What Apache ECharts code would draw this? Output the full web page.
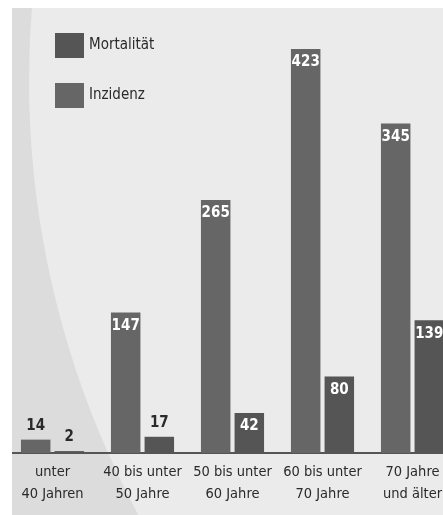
<!DOCTYPE html>
<html>
<head>
<meta charset="utf-8">
<script src="https://cdn.jsdelivr.net/npm/echarts@6/dist/echarts.min.js"></script>
<style>
html,body{margin:0;padding:0;background:#fff;}
#c{width:443px;height:515px;}
</style>
</head>
<body>
<div id="c"></div>
<script>
var categories = ['unter\n40 Jahren', '40 bis unter\n50 Jahre', '50 bis unter\n60 Jahre', '60 bis unter\n70 Jahre', '70 Jahre\nund älter'];
var inzidenz = [14, 147, 265, 423, 345];
var mortalitaet = [2, 17, 42, 80, 139];

var FONT = '"DejaVu Sans Condensed", "Liberation Sans Narrow", sans-serif';

function labelled(values) {
  return values.map(function (v) {
    var small = v < 30;
    return {
      value: v,
      label: {
        show: true,
        position: small ? 'top' : 'insideTop',
        distance: 6,
        color: small ? '#2a2a2a' : '#ffffff',
        fontFamily: FONT,
        fontSize: 15,
        fontWeight: 'bold'
      }
    };
  });
}

var chart = echarts.init(document.getElementById('c'), null, {renderer: 'canvas'});
chart.setOption({
  animation: false,
  backgroundColor: '#ffffff',
  graphic: [
    {type: 'rect', z: -20, silent: true, shape: {x: 12, y: 8, width: 431, height: 507}, style: {fill: '#dcdcdc'}},
    {type: 'circle', z: -19, silent: true, shape: {cx: 949, cy: 80, r: 920}, style: {fill: '#ebebeb'}},
    {type: 'rect', z: 100, silent: true, shape: {x: 0, y: 0, width: 443, height: 8}, style: {fill: '#ffffff'}},
    {type: 'rect', z: 100, silent: true, shape: {x: 0, y: 0, width: 12, height: 515}, style: {fill: '#ffffff'}}
  ],
  legend: {
    orient: 'vertical',
    left: 55,
    top: 33,
    padding: 0,
    itemWidth: 29,
    itemHeight: 25,
    itemGap: 25,
    icon: 'rect',
    data: ['Mortalität', 'Inzidenz'],
    textStyle: {fontFamily: FONT, fontSize: 15, color: '#2a2a2a'}
  },
  grid: {left: 7.5, top: 49, width: 450, height: 404, containLabel: false, outerBoundsMode: 'none'},
  xAxis: {
    type: 'category',
    data: categories,
    axisLine: {show: true, lineStyle: {color: '#555555', width: 2}},
    axisTick: {show: false},
    axisLabel: {
      interval: 0,
      margin: 8,
      fontFamily: FONT,
      fontSize: 14.5,
      lineHeight: 22,
      color: '#2a2a2a',
      align: 'center',
      hideOverlap: false
    }
  },
  yAxis: {
    type: 'value',
    min: 0,
    max: 423,
    show: false,
    splitLine: {show: false}
  },
  series: [
    {
      name: 'Inzidenz',
      type: 'bar',
      barWidth: 29.5,
      barGap: '14%',
      itemStyle: {color: '#666666'},
      data: labelled(inzidenz)
    },
    {
      name: 'Mortalität',
      type: 'bar',
      barWidth: 29.5,
      barGap: '14%',
      itemStyle: {color: '#555555'},
      data: labelled(mortalitaet)
    }
  ]
});
</script>
</body>
</html>
